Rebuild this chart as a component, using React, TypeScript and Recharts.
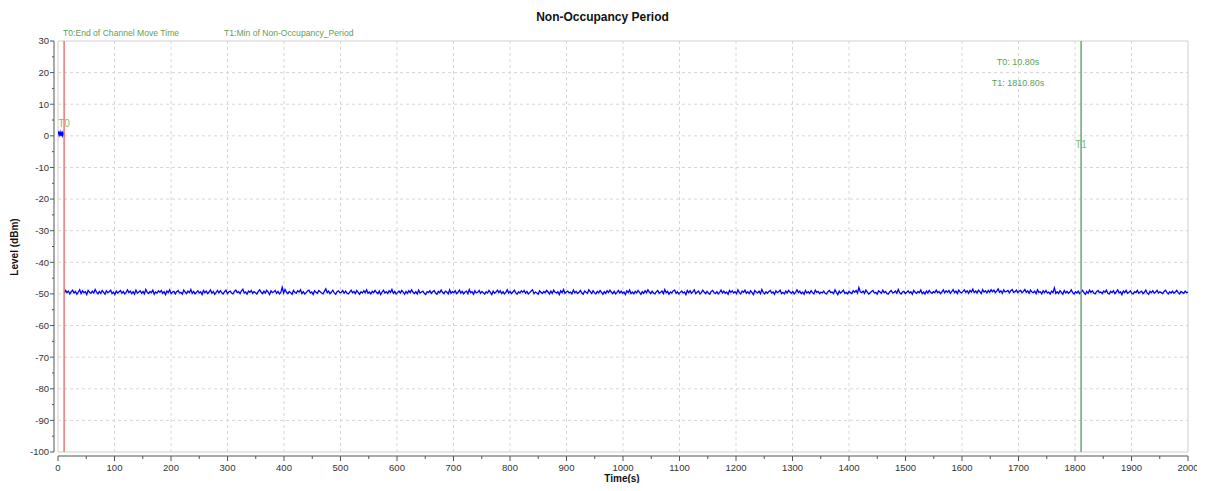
import React from 'react';
import {
  LineChart,
  Line,
  XAxis,
  YAxis,
  CartesianGrid,
  ReferenceLine,
  ReferenceArea,
  ReferenceDot,
} from 'recharts';

// ---- data ----
const startTimes = [0, 1, 2, 3, 4, 5, 6, 7, 8, 9, 10, 10.8];
const startLevels = [0.6, 1.0, 0.3, 0.9, 0.5, 1.1, 0.4, 0.8, 0.2, 1.0, 0.6, 0.9];

const noiseStartTime = 11;
const noiseEndTime = 2000;
const noiseLevels = [
  -49.8, -48.9, -49.6, -49.1, -50.0, -49.3, -48.8, -49.7, -49.2, -50.1, -49.4, -48.7, -49.9, -49.0, -49.6, -49.3, -50.2, -48.9, -49.5, -49.8,
  -49.1, -49.7, -48.6, -49.4, -50.0, -49.2, -49.8, -48.9, -49.5, -50.1, -49.0, -49.6, -49.3, -48.8, -49.9, -49.4, -50.2, -49.1, -49.7, -49.3,
  -48.9, -49.8, -49.2, -50.0, -49.5, -48.7, -49.6, -49.1, -49.9, -49.3, -50.1, -48.8, -49.7, -49.4, -49.0, -49.8, -49.2, -50.0, -48.6, -49.5,
  -49.9, -49.2, -49.6, -48.8, -50.1, -49.4, -49.7, -49.0, -49.5, -48.9, -49.8, -49.3, -50.2, -49.1, -49.6, -48.7, -49.9, -49.4, -49.2, -50.0,
  -49.3, -48.9, -49.7, -49.5, -50.1, -48.8, -49.4, -49.9, -49.1, -49.6, -48.6, -49.8, -49.2, -50.0, -49.5, -49.0, -49.7, -49.3, -50.2, -48.9,
  -49.6, -49.1, -49.9, -49.4, -48.7, -49.8, -49.2, -50.1, -49.5, -48.9, -49.7, -49.0, -49.6, -50.0, -49.3, -48.8, -49.9, -49.4, -49.1, -49.7,
  -50.0, -49.2, -48.8, -49.6, -49.3, -49.9, -49.0, -48.5, -49.7, -49.4, -50.1, -49.1, -49.5, -48.9, -49.8, -49.3, -49.6, -50.0, -49.2, -48.7,
  -49.5, -49.9, -49.1, -49.7, -48.8, -49.4, -50.2, -49.0, -49.6, -49.3, -48.9, -49.8, -49.2, -50.0, -49.5, -47.9, -49.7, -48.6, -49.4, -49.9,
  -49.2, -49.6, -50.1, -48.9, -49.5, -49.8, -49.0, -49.4, -48.7, -49.9, -49.3, -50.0, -49.6, -49.1, -48.8, -49.7, -49.4, -50.2, -49.0, -49.5,
  -49.8, -48.9, -49.3, -49.7, -50.0, -49.2, -48.4, -49.6, -49.1, -49.9, -49.4, -48.8, -49.7, -50.1, -49.3, -49.0, -49.6, -49.5, -48.9, -49.8,
  -49.1, -49.7, -50.0, -49.4, -48.8, -49.6, -49.2, -49.9, -48.9, -49.5, -50.1, -49.3, -49.7, -49.0, -49.6, -48.7, -49.8, -49.4, -50.0, -49.2,
  -49.6, -48.9, -49.5, -49.9, -49.1, -50.2, -49.4, -48.8, -49.7, -49.3, -49.9, -49.0, -49.5, -48.6, -49.8, -49.2, -50.0, -49.6, -49.1, -49.7,
  -48.9, -49.4, -50.1, -49.2, -49.8, -49.0, -49.6, -48.7, -49.5, -49.9, -49.3, -50.0, -48.8, -49.7, -49.4, -49.1, -49.8, -50.2, -49.3, -49.6,
  -49.0, -49.8, -49.3, -48.9, -49.7, -50.1, -49.2, -49.6, -48.8, -49.5, -49.9, -49.1, -49.4, -50.0, -48.7, -49.8, -49.3, -49.6, -49.0, -49.9,
  -49.5, -48.8, -49.7, -49.2, -50.0, -49.4, -49.1, -49.9, -48.6, -49.6, -49.3, -50.1, -49.0, -49.7, -49.5, -48.9, -49.8, -49.2, -49.6, -50.0,
  -49.3, -49.7, -48.9, -49.5, -50.2, -49.1, -49.8, -49.4, -48.8, -49.6, -49.0, -49.9, -49.3, -50.0, -49.5, -48.7, -49.7, -49.2, -49.9, -49.4,
  -48.8, -49.6, -50.1, -49.3, -49.7, -49.0, -49.5, -48.9, -49.8, -49.2, -50.0, -49.6, -49.1, -48.7, -49.9, -49.4, -49.7, -50.1, -49.0, -49.5,
  -49.9, -49.2, -49.6, -48.9, -49.4, -50.0, -49.1, -49.8, -48.8, -49.5, -49.7, -49.3, -50.2, -49.0, -49.6, -48.6, -49.8, -49.4, -49.1, -49.7,
  -49.4, -50.0, -48.8, -49.6, -49.2, -49.9, -49.5, -48.9, -49.7, -50.1, -49.1, -49.5, -49.8, -48.7, -49.3, -49.9, -49.0, -49.6, -50.0, -49.2,
  -49.7, -48.9, -49.5, -50.1, -49.3, -49.8, -49.0, -49.6, -48.8, -49.4, -49.9, -49.2, -50.0, -49.5, -48.9, -49.7, -49.1, -49.8, -49.4, -50.2,
  -49.0, -49.6, -48.8, -49.9, -49.4, -50.0, -49.2, -49.7, -48.9, -49.5, -50.1, -49.3, -49.8, -49.0, -49.6, -48.7, -49.4, -49.9, -49.1, -49.7,
  -50.0, -49.3, -48.9, -49.8, -49.5, -49.1, -49.9, -48.6, -49.6, -49.2, -50.1, -49.4, -49.7, -49.0, -48.8, -49.8, -49.3, -50.0, -49.5, -49.1,
  -49.7, -49.4, -50.2, -48.9, -49.6, -49.0, -49.8, -49.3, -48.7, -49.9, -49.5, -49.1, -50.0, -49.6, -48.8, -49.4, -49.9, -49.2, -49.7, -50.1,
  -49.2, -48.9, -49.6, -49.9, -49.3, -50.0, -49.5, -48.8, -49.7, -49.1, -49.8, -49.4, -50.1, -48.9, -49.5, -49.0, -49.7, -49.3, -49.9, -48.7,
  -49.6, -50.0, -49.1, -49.5, -48.8, -49.8, -49.3, -49.9, -49.0, -49.6, -50.2, -48.9, -49.4, -49.7, -49.1, -49.9, -48.6, -49.5, -50.0, -49.3,
  -49.8, -49.2, -48.9, -49.7, -49.4, -50.1, -49.0, -49.6, -49.3, -48.8, -49.9, -49.5, -50.0, -49.1, -49.7, -48.9, -49.4, -49.8, -49.2, -50.0,
  -49.5, -48.7, -49.6, -49.1, -49.9, -49.4, -50.1, -48.9, -49.7, -49.3, -49.8, -49.0, -49.6, -50.0, -48.8, -49.5, -49.2, -49.9, -49.4, -49.7,
  -49.1, -49.8, -50.0, -49.3, -48.9, -49.6, -49.4, -49.9, -48.7, -49.5, -50.2, -49.1, -49.7, -49.3, -48.8, -49.8, -49.5, -50.0, -49.2, -49.6,
  -49.9, -49.0, -49.5, -48.9, -49.7, -48.0, -49.3, -49.6, -49.1, -49.8, -48.8, -49.4, -50.0, -49.6, -49.2, -48.9, -49.7, -49.5, -50.1, -49.0,
  -49.4, -49.8, -48.8, -49.6, -49.2, -49.9, -50.0, -49.3, -48.9, -49.7, -49.5, -49.1, -49.8, -48.6, -49.6, -50.0, -49.4, -49.2, -49.9, -49.5,
  -49.0, -49.7, -49.3, -50.1, -48.9, -49.5, -49.8, -49.2, -49.6, -48.8, -49.9, -49.4, -50.0, -49.1, -49.7, -48.9, -49.5, -49.8, -49.3, -49.6,
  -48.8, -49.6, -49.2, -49.9, -49.4, -48.7, -49.7, -49.0, -49.5, -48.9, -49.8, -49.3, -48.6, -49.6, -49.1, -49.9, -48.8, -49.4, -49.7, -49.2,
  -48.7, -49.5, -49.0, -49.8, -48.9, -49.4, -48.5, -49.6, -49.1, -49.7, -48.8, -49.3, -49.9, -48.6, -49.4, -49.0, -49.7, -48.9, -49.5, -48.7,
  -49.3, -48.8, -49.6, -49.1, -48.4, -49.5, -49.0, -49.8, -48.7, -49.4, -49.2, -48.9, -49.7, -49.0, -48.6, -49.5, -49.3, -48.8, -49.6, -49.1,
  -48.9, -49.7, -49.2, -48.6, -49.5, -49.0, -49.8, -48.8, -49.4, -49.6, -49.1, -49.9, -48.7, -49.5, -49.3, -50.0, -49.0, -49.6, -48.9, -49.7,
  -49.4, -50.0, -49.1, -49.6, -48.1, -49.8, -49.3, -49.9, -49.0, -49.5, -50.1, -48.9, -49.7, -49.2, -49.8, -49.4, -48.7, -49.6, -50.0, -49.3,
  -49.7, -49.1, -49.9, -49.4, -48.9, -49.6, -50.1, -49.2, -49.8, -48.8, -49.5, -49.0, -49.7, -50.0, -49.3, -48.9, -49.6, -49.4, -49.9, -49.1,
  -49.5, -48.8, -49.8, -50.0, -49.2, -49.6, -49.0, -49.9, -49.4, -48.7, -49.7, -49.3, -50.2, -49.1, -49.6, -48.9, -49.8, -49.5, -49.0, -49.7,
  -50.0, -49.3, -49.6, -48.9, -49.8, -49.4, -49.1, -49.9, -49.5, -48.8, -49.7, -50.1, -49.2, -49.6, -49.0, -49.8, -49.4, -48.9, -49.7, -49.3,
  -49.6, -49.9, -49.2, -48.8, -49.5, -50.0, -49.3, -49.7, -49.1, -49.8, -49.4, -48.9, -49.6, -50.0, -49.2, -49.5, -49.8, -49.1, -49.6, -49.4,
];

const xMajorTicks = [0, 100, 200, 300, 400, 500, 600, 700, 800, 900, 1000, 1100, 1200, 1300, 1400, 1500, 1600, 1700, 1800, 1900, 2000];
const yMajorTicks = [-100, -90, -80, -70, -60, -50, -40, -30, -20, -10, 0, 10, 20, 30];

const t0Time = 10.8;
const t1Time = 1810.8;

const titleText = 'Non-Occupancy Period';
const xAxisTitle = 'Time(s)';
const yAxisTitle = 'Level (dBm)';
const t0Legend = 'T0:End of Channel Move Time';
const t1Legend = 'T1:Min of Non-Occupancy_Period';
const t0Value = 'T0: 10.80s';
const t1Value = 'T1: 1810.80s';

// ---- derived tables ----
const startData = startTimes.map((t, i) => ({ t, level: startLevels[i] }));
const noiseStep = (noiseEndTime - noiseStartTime) / (noiseLevels.length - 1);
const noiseData = noiseLevels.map((level, i) => ({ t: noiseStartTime + i * noiseStep, level }));

const xAllTicks: number[] = [];
xMajorTicks.forEach((v, i) => {
  xAllTicks.push(v);
  if (i < xMajorTicks.length - 1) xAllTicks.push(v + 50);
});
const yAllTicks: number[] = [];
yMajorTicks.forEach((v, i) => {
  yAllTicks.push(v);
  if (i < yMajorTicks.length - 1) yAllTicks.push(v + 5);
});
const gridX = xMajorTicks.slice(1, -1);
const gridY = yMajorTicks.slice(1, -1);

const TICK_FONT = '"Liberation Sans Narrow", "Liberation Sans", Arial, sans-serif';
const UI_FONT = '"Liberation Sans", Arial, sans-serif';
const GREEN = '#5e9f55';
const AXIS = '#555555';

const XTick = (props: any) => {
  const { x, y, payload } = props;
  const v = payload.value;
  const major = v % 100 === 0;
  return (
    <g>
      <line x1={x} x2={x} y1={y + 4} y2={y + 4 + (major ? 5 : 3)} stroke={AXIS} strokeWidth={1} />
      {major && (
        <text x={x} y={y + 19} textAnchor="middle" fontSize={9.5} fontFamily={TICK_FONT} fill="#333">
          {v}
        </text>
      )}
    </g>
  );
};

const YTick = (props: any) => {
  const { x, y, payload } = props;
  const v = payload.value;
  const major = v % 10 === 0;
  return (
    <g>
      <line x1={x - 4} x2={x - 4 - (major ? 4 : 2)} y1={y} y2={y} stroke={AXIS} strokeWidth={1} />
      {major && (
        <text x={x - 9} y={y + 3.4} textAnchor="end" fontSize={9.5} fontFamily={TICK_FONT} fill="#333">
          {v}
        </text>
      )}
    </g>
  );
};

export default function App() {
  return (
    <div style={{ position: 'relative', width: 1189, height: 475, overflow: 'visible' }}>
      <style>{'html,body{overflow:hidden}.recharts-surface{overflow:visible}'}</style>
      <LineChart
        width={1189}
        height={475}
        margin={{ top: 33, right: 9, bottom: 6, left: 10 }}
      >
        <CartesianGrid
          stroke="#d6d6d6"
          strokeDasharray="3 3"
          verticalValues={gridX}
          horizontalValues={gridY}
        />
        <ReferenceArea x1={0} x2={2000} y1={-100} y2={30} fill="none" stroke="#cfcfcf" strokeWidth={1} />
        <XAxis
          dataKey="t"
          type="number"
          domain={[0, 2000]}
          ticks={xAllTicks}
          interval={0}
          allowDataOverflow
          height={25}
          tickSize={0}
          tickMargin={0}
          tickLine={false}
          tick={<XTick />}
          axisLine={{ stroke: AXIS, transform: 'translate(0,4)' } as any}
        />
        <YAxis
          type="number"
          domain={[-100, 30]}
          ticks={yAllTicks}
          interval={0}
          allowDataOverflow
          width={40}
          tickSize={0}
          tickMargin={0}
          tickLine={false}
          tick={<YTick />}
          axisLine={{ stroke: AXIS, transform: 'translate(-4,0)' } as any}
        />
        <Line
          data={startData}
          dataKey="level"
          stroke="#0000ff"
          strokeWidth={1.5}
          dot={false}
          isAnimationActive={false}
        />
        <Line
          data={noiseData}
          dataKey="level"
          stroke="#0000ff"
          strokeWidth={1.3}
          dot={false}
          isAnimationActive={false}
        />
        <ReferenceLine x={t0Time} stroke="#f07575" strokeWidth={1.5} />
        <ReferenceLine x={t1Time} stroke="#6aa86a" strokeWidth={1.5} />
        <ReferenceDot
          x={t0Time}
          y={3.9}
          r={1}
          fill="none"
          stroke="none"
          label={{ value: 'T0', position: 'center', fill: '#7dbb70', fontSize: 10, fontFamily: UI_FONT }}
        />
        <ReferenceDot
          x={t1Time}
          y={-2.8}
          r={1}
          fill="none"
          stroke="none"
          label={{ value: 'T1', position: 'center', fill: '#7dbb70', fontSize: 10, fontFamily: UI_FONT }}
        />
      </LineChart>

      <div
        style={{
          position: 'absolute', left: 0, top: 2, width: 1189, textAlign: 'center',
          fontFamily: UI_FONT, fontWeight: 'bold', fontSize: 12, lineHeight: '14px', color: '#111',
        }}
      >
        {titleText}
      </div>
      <div
        style={{
          position: 'absolute', left: 55, top: 20, whiteSpace: 'nowrap',
          fontFamily: UI_FONT, fontSize: 8.6, lineHeight: '11px', color: GREEN,
        }}
      >
        {t0Legend}
      </div>
      <div
        style={{
          position: 'absolute', left: 216, top: 20, whiteSpace: 'nowrap',
          fontFamily: UI_FONT, fontSize: 8.6, lineHeight: '11px', color: GREEN,
        }}
      >
        {t1Legend}
      </div>
      <div
        style={{
          position: 'absolute', left: 910, top: 48, width: 200, textAlign: 'center', whiteSpace: 'nowrap',
          fontFamily: TICK_FONT, fontSize: 9, lineHeight: '12px', color: GREEN,
        }}
      >
        {t0Value}
      </div>
      <div
        style={{
          position: 'absolute', left: 910, top: 69, width: 200, textAlign: 'center', whiteSpace: 'nowrap',
          fontFamily: TICK_FONT, fontSize: 9, lineHeight: '12px', color: GREEN,
        }}
      >
        {t1Value}
      </div>
      <div
        style={{
          position: 'absolute', left: 514, top: 465, width: 200, textAlign: 'center',
          fontFamily: UI_FONT, fontWeight: 'bold', fontSize: 10, lineHeight: '12px', color: '#111',
        }}
      >
        {xAxisTitle}
      </div>
      <div
        style={{
          position: 'absolute', left: 7, top: 238.5, width: 0, height: 0,
        }}
      >
        <div
          style={{
            position: 'absolute', left: -60, top: -6, width: 120, textAlign: 'center',
            transform: 'rotate(-90deg)', transformOrigin: '60px 6px',
            fontFamily: UI_FONT, fontWeight: 'bold', fontSize: 10, lineHeight: '12px', color: '#111',
          }}
        >
          {yAxisTitle}
        </div>
      </div>
    </div>
  );
}
